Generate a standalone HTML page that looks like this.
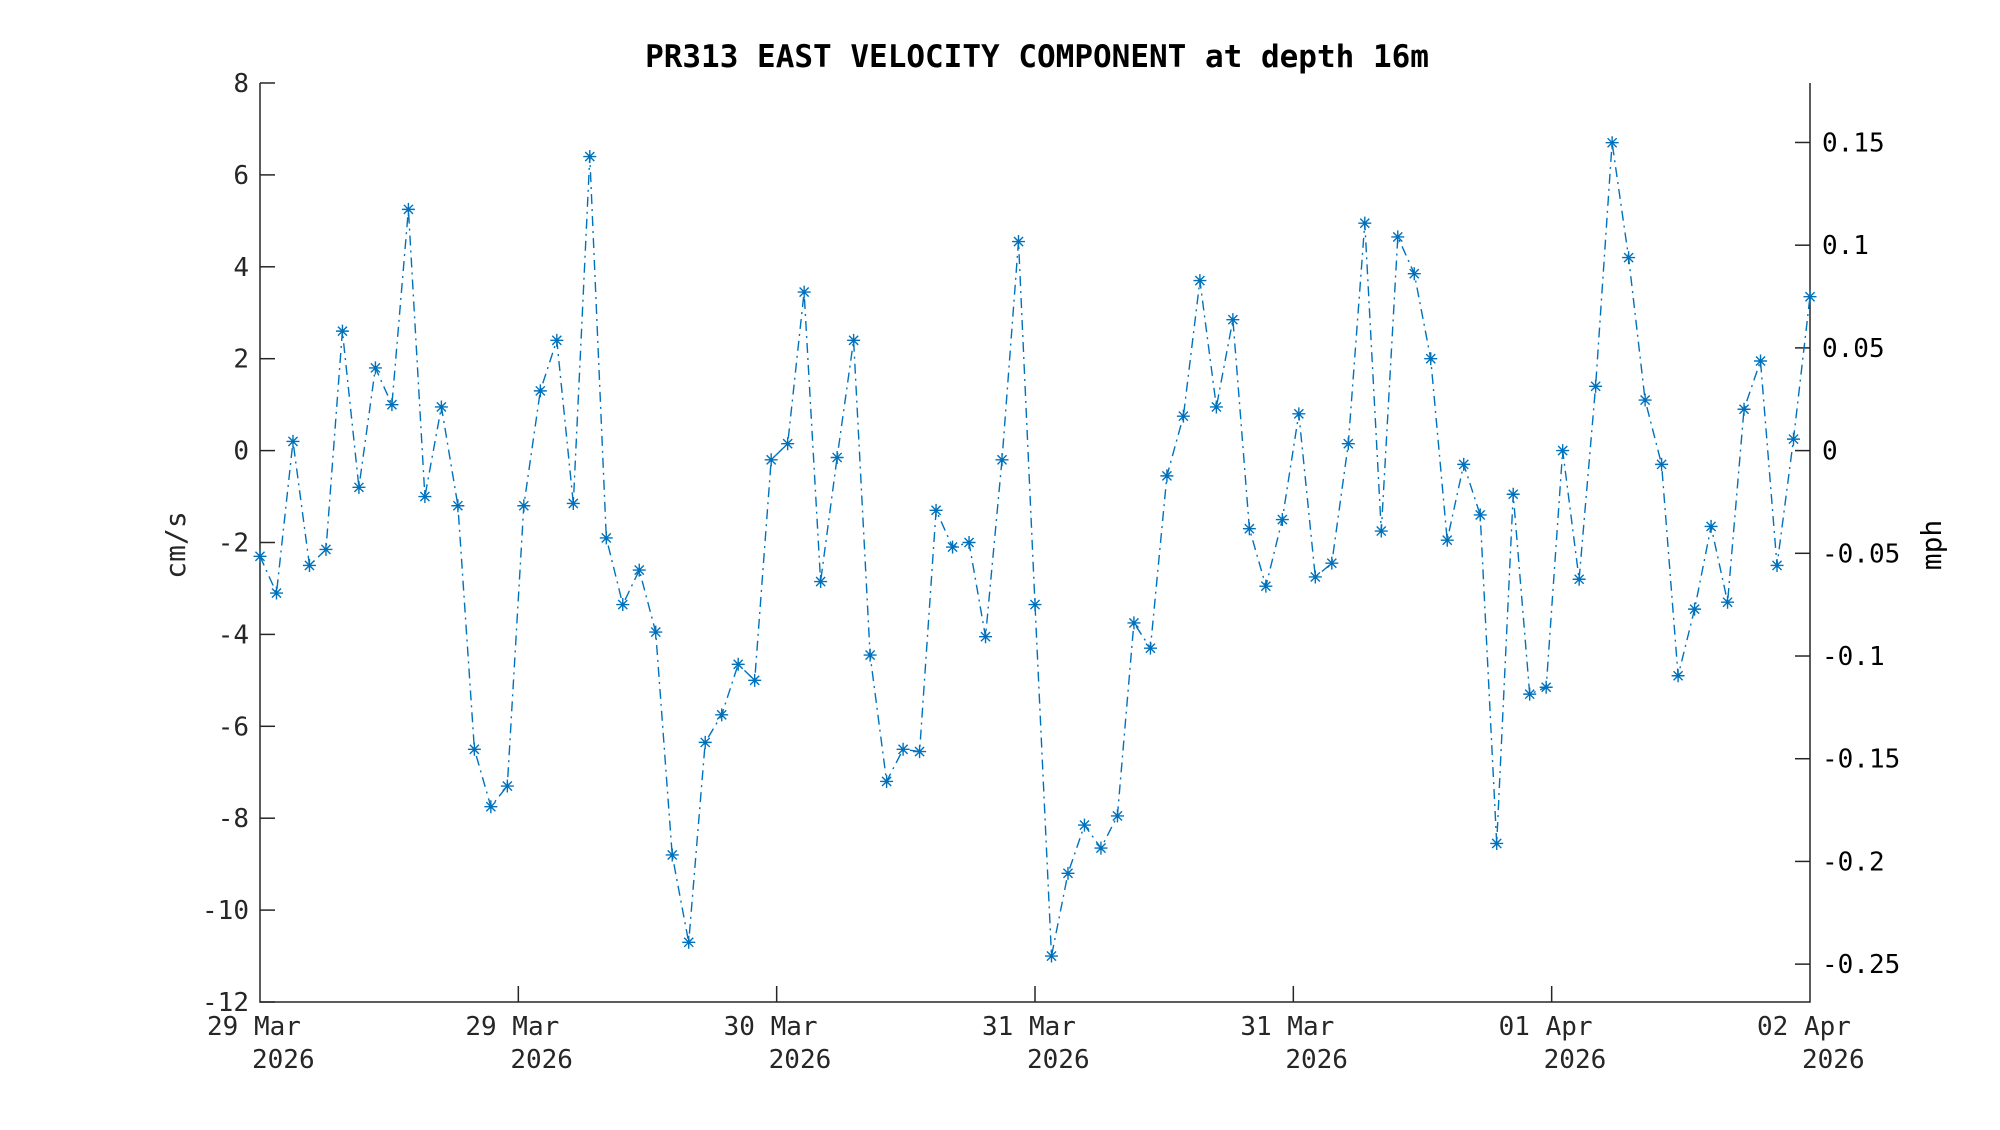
<!DOCTYPE html>
<html><head><meta charset="utf-8"><style>html,body{margin:0;padding:0;background:#fff}</style></head>
<body>
<svg id="s" xmlns="http://www.w3.org/2000/svg" width="2000" height="1125" viewBox="0 0 2000 1125" font-family="'DejaVu Sans Mono','Liberation Mono',monospace">
<rect width="2000" height="1125" fill="#fff"/>
<text x="1037" y="67" font-size="31" font-weight="bold" text-anchor="middle" fill="#000">PR313 EAST VELOCITY COMPONENT at depth 16m</text>
<g id="ax" stroke="#262626" stroke-width="1.5" fill="none"></g>
<g id="lbl" font-size="26" fill="#262626"></g>
<text transform="translate(185,545) rotate(-90)" font-size="28" text-anchor="middle" fill="#262626">cm/s</text>
<text transform="translate(1941,545) rotate(-90)" font-size="28" text-anchor="middle" fill="#000">mph</text>
<g id="data"></g>
</svg>
<script>
const L=260,R=1810,T=83,B=1002;
const yv=v=>T+(8-v)*(B-T)/20;
const ns="http://www.w3.org/2000/svg";
function el(p,t,a,txt){const e=document.createElementNS(ns,t);for(const k in a)e.setAttribute(k,a[k]);if(txt!==undefined)e.textContent=txt;p.appendChild(e);return e;}
const ax=document.getElementById('ax'),lb=document.getElementById('lbl'),dg=document.getElementById('data');
el(ax,'path',{d:`M${L} ${T}V${B}H${R}V${T}`});
for(let v=8;v>=-12;v-=2){const y=yv(v);el(ax,'line',{x1:L,y1:y,x2:L+15,y2:y});el(lb,'text',{x:249,y:y+9,'text-anchor':'end'},String(v));}
const mph=[0.15,0.1,0.05,0,-0.05,-0.1,-0.15,-0.2,-0.25];
mph.forEach(m=>{const y=yv(m*44.704);el(ax,'line',{x1:R-15,y1:y,x2:R,y2:y});el(lb,'text',{x:1822,y:y+9,fill:'#000'},m===0?'0':String(m));});
const dates=['29 Mar','29 Mar','30 Mar','31 Mar','31 Mar','01 Apr','02 Apr'];
for(let i=0;i<7;i++){const x=L+i*(R-L)/6;if(i>0&&i<6)el(ax,'line',{x1:x,y1:B,x2:x,y2:B-16});
el(lb,'text',{x:x-53,y:1035},dates[i]);el(lb,'text',{x:x-8,y:1068},'2026');}
const d=[-2.3,-3.1,0.2,-2.5,-2.15,2.6,-0.8,1.8,1.0,5.25,-1.0,0.95,-1.2,-6.5,-7.75,-7.3,-1.2,1.3,2.4,-1.15,6.4,-1.9,-3.35,-2.6,-3.95,-8.8,-10.7,-6.35,-5.75,-4.65,-5.0,-0.2,0.15,3.45,-2.85,-0.15,2.4,-4.45,-7.2,-6.5,-6.55,-1.3,-2.1,-2.0,-4.05,-0.2,4.55,-3.35,-11.0,-9.2,-8.15,-8.65,-7.95,-3.75,-4.3,-0.55,0.75,3.7,0.95,2.85,-1.7,-2.95,-1.5,0.8,-2.75,-2.45,0.15,4.95,-1.75,4.65,3.85,2.0,-1.95,-0.3,-1.4,-8.55,-0.95,-5.3,-5.15,0.0,-2.8,1.4,6.7,4.2,1.1,-0.3,-4.9,-3.45,-1.65,-3.3,0.9,1.95,-2.5,0.25,3.35];
const n=d.length;let pts=[];
d.forEach((v,i)=>pts.push([L+i*(R-L)/(n-1),yv(v)]));
el(dg,'polyline',{points:pts.map(p=>p.map(c=>c.toFixed(1)).join(',')).join(' '),fill:'none',stroke:'#0072BD','stroke-width':1.4,'stroke-dasharray':'10 5 2 5'});
let m='';const r=6.5;
pts.forEach(([x,y])=>{m+=`M${x-r} ${y}H${x+r}M${x} ${y-r}V${y+r}M${x-r*0.7} ${y-r*0.7}L${x+r*0.7} ${y+r*0.7}M${x-r*0.7} ${y+r*0.7}L${x+r*0.7} ${y-r*0.7}`;});
el(dg,'path',{d:m,stroke:'#0072BD','stroke-width':1.4,fill:'none'});
</script>
</body></html>
